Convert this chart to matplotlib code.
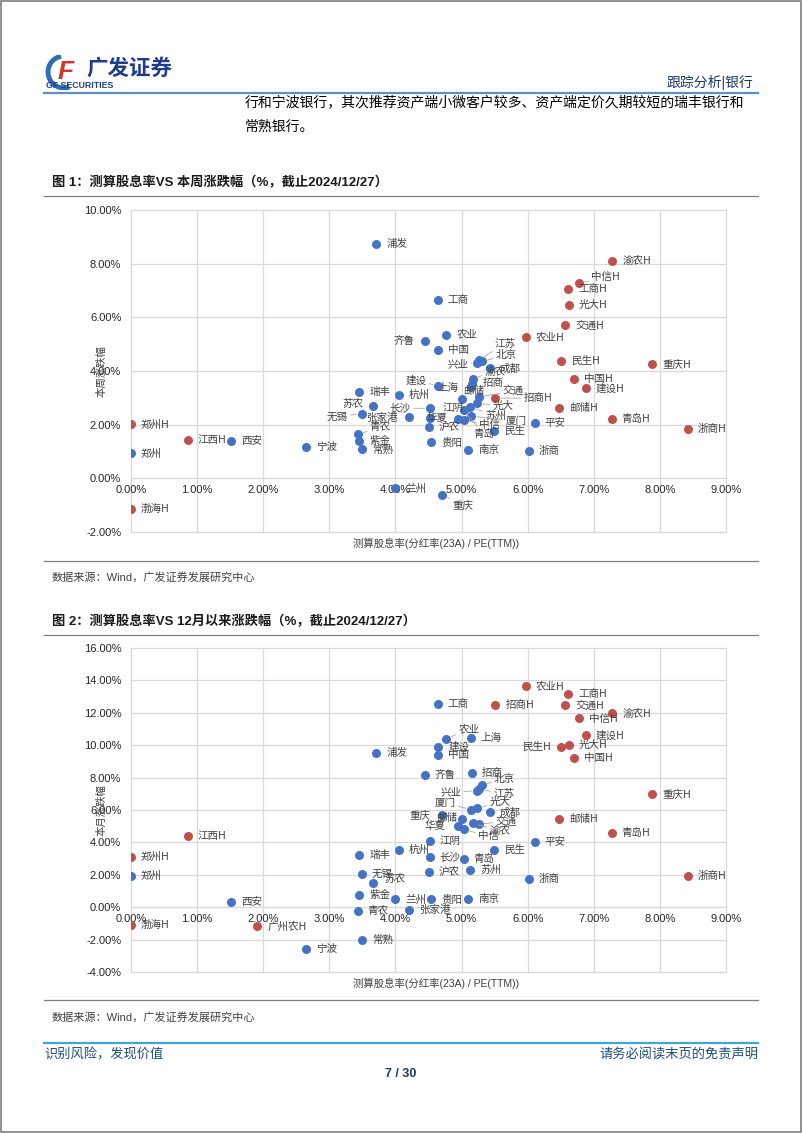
import numpy as np
import matplotlib
matplotlib.use("Agg")
import matplotlib.pyplot as plt
from matplotlib.patches import Rectangle, Arc
from matplotlib.lines import Line2D

plt.rcParams['font.family'] = ['Liberation Sans', 'Noto Sans CJK SC']

# ---------------- data ----------------
names_a = ['浦发', '工商', '农业', '齐鲁', '中国', '建设', '上海', '招商', '渝农', '北京',
           '江苏', '兴业', '成都', '邮储', '交通', '华夏', '中信', '青岛', '苏州', '厦门',
           '光大', '民生', '平安', '瑞丰', '杭州', '苏农', '无锡', '张家港', '长沙', '江阴',
           '沪农', '贵阳', '青农', '紫金', '常熟', '南京', '浙商', '郑州', '西安', '宁波',
           '兰州', '重庆']
yield_a = [3.71, 4.64, 4.77, 4.44, 4.65, 4.65, 5.14, 5.16, 5.17, 5.31,
           5.27, 5.24, 5.43, 5.00, 5.26, 4.94, 5.04, 5.03, 5.13, 5.15,
           5.24, 5.49, 6.11, 3.45, 4.05, 3.66, 3.49, 4.20, 4.52, 4.52,
           4.50, 4.54, 3.43, 3.45, 3.49, 5.10, 6.02, 0.00, 1.52, 2.65,
           4.00, 4.71]
week_a = [8.75, 6.65, 5.36, 5.10, 4.80, 3.45, 3.40, 3.52, 3.72, 4.36,
          4.42, 4.30, 4.10, 2.94, 3.03, 2.20, 2.16, 2.53, 2.66, 2.32,
          2.80, 1.76, 2.07, 3.21, 3.10, 2.69, 2.41, 2.30, 2.61, 2.23,
          1.93, 1.34, 1.64, 1.39, 1.08, 1.05, 1.03, 0.93, 1.38, 1.15,
          -0.37, -0.63]
month_a = [9.50, 12.53, 10.39, 8.17, 9.38, 9.90, 10.47, 8.27, 5.17, 7.55,
           7.30, 7.20, 5.85, 5.47, 5.12, 5.02, 4.80, 2.96, 2.30, 6.01,
           6.11, 3.56, 4.01, 3.23, 3.56, 1.52, 2.08, -0.19, 3.07, 4.07,
           2.18, 0.49, -0.25, 0.74, -2.04, 0.49, 1.77, 1.91, 0.31, -2.59,
           0.49, 5.68]

names_h = ['渝农H', '中信H', '工商H', '光大H', '交通H', '农业H', '民生H', '重庆H', '中国H',
           '建设H', '招商H', '邮储H', '青岛H', '浙商H', '郑州H', '江西H', '渤海H', '广州农H']
yield_h = [7.28, 6.78, 6.61, 6.62, 6.57, 5.97, 6.51, 7.88, 6.70,
           6.88, 5.51, 6.48, 7.27, 8.42, 0.00, 0.86, 0.00, 1.91]
week_h = [8.09, 7.27, 7.06, 6.45, 5.70, 5.26, 4.39, 4.26, 3.69,
          3.36, 2.99, 2.63, 2.20, 1.85, 2.01, 1.42, -1.15, np.nan]
month_h = [11.96, 11.65, 13.15, 10.00, 12.47, 13.66, 9.90, 6.99, 9.18,
           10.62, 12.49, 5.43, 4.57, 1.91, 3.09, 4.38, -1.11, -1.17]

x_ticks = [0, 1, 2, 3, 4, 5, 6, 7, 8, 9]
y1_ticks = [-2, 0, 2, 4, 6, 8, 10]
y2_ticks = [-4, -2, 0, 2, 4, 6, 8, 10, 12, 14, 16]

# ---------------- label layout (pixel offsets) ----------------
LBL1 = {
    '齐鲁': (-10, 0, 'right', False), '江苏': (15, -16, 'left', True),
    '北京': (14, -6, 'left', True), '兴业': (-9, 1, 'right', True),
    '渝农': (12, -7, 'left', True), '招商': (11, -1, 'left', False),
    '上海': (-12, 1, 'right', False), '建设': (-12, -5, 'right', True),
    '邮储': (2, -8, 'left', False), '交通': (24, -6, 'left', True),
    '招商H': (28, 0, 'left', True), '苏农': (-10, -2, 'right', False),
    '无锡': (-14, 3, 'right', True), '张家港': (-11, 1, 'right', False),
    '长沙': (-19, 0, 'right', True), '江阴': (13, -11, 'left', True),
    '华夏': (-10, -1, 'right', False), '中信': (15, 5, 'left', True),
    '青岛': (10, 24, 'left', True), '苏州': (15, 9, 'left', True),
    '光大': (15, 3, 'left', True), '厦门': (34, 5, 'left', True),
    '青农': (12, -7, 'left', True), '重庆': (10, 10, 'left', True),
    '中信H': (12, -6, 'left', True),
}
LBL2 = {
    '农业': (12, -10, 'left', True), '民生H': (-10, 0, 'right', False),
    '北京': (12, -6, 'left', True), '江苏': (14, 5, 'left', True),
    '兴业': (-16, 2, 'right', True), '厦门': (-16, -7, 'right', True),
    '光大': (12, -6, 'left', True), '重庆': (-12, 0, 'right', False),
    '邮储': (-4, -1, 'right', False), '华夏': (-12, 0, 'right', False),
    '交通': (17, -3, 'left', True), '渝农': (17, 7, 'left', True),
    '中信': (14, 7, 'left', True), '苏农': (11, -4, 'left', False),
}

BLUE = '#4472c4'
RED = '#c0504d'
W, H = 802, 1133

fig = plt.figure(figsize=(W / 100, H / 100), dpi=100)


def fx(px):
    return px / W


def fy(py):
    return 1 - py / H


def hline(py, x0, x1, color, lw):
    fig.add_artist(Line2D([fx(x0), fx(x1)], [fy(py), fy(py)], color=color, lw=lw,
                          transform=fig.transFigure))


def scatter_chart(top, bottom, yt, ydata_a, ydata_h, lbl):
    ax = fig.add_axes([fx(131), fy(bottom), fx(726) - fx(131), fy(top) - fy(bottom)])
    ax.set_xlim(0, 9)
    ax.set_ylim(yt[0], yt[-1])
    ax.set_xticks(x_ticks)
    ax.set_yticks(yt)
    ax.set_xticklabels([f'{v:.2f}%' for v in x_ticks])
    ax.set_yticklabels([f'{v:.2f}%' for v in yt])
    for s in ['top', 'right', 'left']:
        ax.spines[s].set_visible(False)
    ax.spines['bottom'].set_position(('data', 0))
    ax.spines['bottom'].set_color('#d9d9d9')
    ax.grid(True, color='#d9d9d9', lw=0.9)
    for gl in ax.get_xgridlines() + ax.get_ygridlines():
        gl.set_clip_on(False)
    ax.set_axisbelow(True)
    ax.tick_params(length=0, labelsize=8, colors='#262626')
    ax.tick_params(axis='x', pad=5)
    ax.tick_params(axis='y', pad=7)

    ax.scatter(yield_a, ydata_a, s=42, color=BLUE, zorder=3, linewidths=0)
    ax.scatter(yield_h, ydata_h, s=42, color=RED, zorder=3, linewidths=0)

    for names, xs, ys in [(names_a, yield_a, ydata_a), (names_h, yield_h, ydata_h)]:
        for n, xv, yv in zip(names, xs, ys):
            if yv is None or np.isnan(yv):
                continue
            dx, dy, ha, leader = lbl.get(n, (10, 0, 'left', False))
            kw = {}
            if leader:
                kw['arrowprops'] = dict(arrowstyle='-', color='#a6a6a6', lw=0.6,
                                        shrinkA=0, shrinkB=4)
            ax.annotate(n, (xv, yv), xytext=(dx * 0.72, -dy * 0.72),
                        textcoords='offset points', ha=ha, va='center',
                        fontsize=7.6, color='#404040', zorder=4,
                        family=['Noto Sans CJK SC'], **kw)
    return ax


# ---------------- page decorations ----------------
fig.add_artist(Rectangle((0.001, 0.001), 0.998, 0.998, transform=fig.transFigure,
                         fill=False, edgecolor='#7f7f7f', lw=1.2))

# logo
lax = fig.add_axes([fx(44), fy(90), fx(84) - fx(44), fy(55) - fy(90)])
lax.set_xlim(0, 40)
lax.set_ylim(0, 35)
lax.axis('off')
lax.add_patch(Arc((20, 18), 32, 32, theta1=100, theta2=290, color='#2e6db4', lw=3.5))
lax.text(22, 18, 'F', fontsize=19, color='#d9342b', weight='bold', style='italic',
         ha='center', va='center')
fig.text(fx(86), fy(69), '广发证券', fontsize=15.5, weight='bold', color='#1f3d8c',
         va='center', ha='left', style='italic')
fig.text(fx(46), fy(86), 'GF SECURITIES', fontsize=6.3, weight='bold', color='#1f3d8c',
         va='center', ha='left')
fig.text(fx(753), fy(82), '跟踪分析|银行', fontsize=10, color='#1f3864', ha='right',
         va='center')
hline(93, 44, 758, '#5b8fc7', 1.6)

fig.text(fx(245), fy(102), '行和宁波银行，其次推荐资产端小微客户较多、资产端定价久期较短的瑞丰银行和',
         fontsize=10, color='#000000', ha='left', va='center')
fig.text(fx(245), fy(127), '常熟银行。', fontsize=10, color='#000000', ha='left', va='center')

# figure 1
fig.text(fx(52), fy(183), '图 1：测算股息率VS 本周涨跌幅（%，截止2024/12/27）', fontsize=9.5,
         weight='bold', color='#1a1a1a', ha='left', va='center')
hline(196, 44, 758, '#7f7f7f', 0.9)
scatter_chart(210, 532, y1_ticks, week_a, week_h, LBL1)
fig.text(fx(102), fy(371), '本周涨跌幅', rotation=90, fontsize=7.5, color='#404040',
         ha='center', va='center')
fig.text(fx(436), fy(543), '测算股息率(分红率(23A) / PE(TTM))', fontsize=7.5, color='#404040',
         ha='center', va='center')
hline(561, 44, 758, '#7f7f7f', 0.9)
fig.text(fx(52), fy(577), '数据来源：Wind，广发证券发展研究中心', fontsize=8, color='#404040',
         ha='left', va='center')

# figure 2
fig.text(fx(52), fy(622), '图 2：测算股息率VS 12月以来涨跌幅（%，截止2024/12/27）', fontsize=9.5,
         weight='bold', color='#1a1a1a', ha='left', va='center')
hline(635, 44, 758, '#7f7f7f', 0.9)
scatter_chart(648, 972, y2_ticks, month_a, month_h, LBL2)
fig.text(fx(102), fy(810), '本月涨跌幅', rotation=90, fontsize=7.5, color='#404040',
         ha='center', va='center')
fig.text(fx(436), fy(983), '测算股息率(分红率(23A) / PE(TTM))', fontsize=7.5, color='#404040',
         ha='center', va='center')
hline(1000, 44, 758, '#7f7f7f', 0.9)
fig.text(fx(52), fy(1017), '数据来源：Wind，广发证券发展研究中心', fontsize=8, color='#404040',
         ha='left', va='center')

# footer
hline(1043, 44, 758, '#41a5d9', 1.6)
fig.text(fx(44), fy(1055), '识别风险，发现价值', fontsize=9.5, color='#1f4e79', ha='left',
         va='center')
fig.text(fx(758), fy(1055), '请务必阅读末页的免责声明', fontsize=9.5, color='#1f4e79',
         ha='right', va='center')
fig.text(fx(401), fy(1074), '7 / 30', fontsize=9, color='#1f3864', ha='center', va='center',
         weight='bold')

fig.savefig('out.png', dpi=100)
